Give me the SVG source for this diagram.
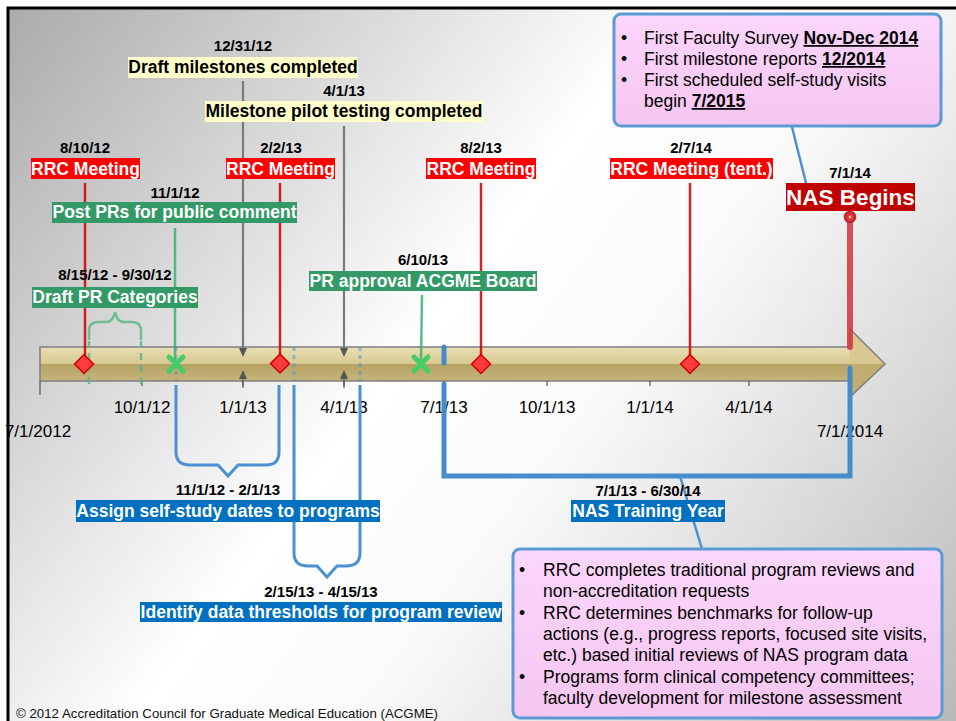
<svg xmlns="http://www.w3.org/2000/svg" width="956" height="721" viewBox="0 0 956 721">
  <defs>
    <linearGradient id="bg" gradientUnits="userSpaceOnUse" x1="0" y1="0" x2="956" y2="721">
      <stop offset="0" stop-color="#a9a9a9"/>
      <stop offset="0.45" stop-color="#ffffff"/>
      <stop offset="0.6" stop-color="#fafafa"/>
      <stop offset="1" stop-color="#b9b9b9"/>
    </linearGradient>
    <linearGradient id="barTop" x1="0" y1="0" x2="0" y2="1">
      <stop offset="0" stop-color="#e9dfb4"/>
      <stop offset="1" stop-color="#d8c992"/>
    </linearGradient>
    <linearGradient id="barBot" x1="0" y1="0" x2="0" y2="1">
      <stop offset="0" stop-color="#b5a263"/>
      <stop offset="1" stop-color="#c6b47c"/>
    </linearGradient>
    <linearGradient id="pink" x1="0" y1="0" x2="0" y2="1">
      <stop offset="0" stop-color="#fcd6fc"/>
      <stop offset="1" stop-color="#f5c6f0"/>
    </linearGradient>
  </defs>
  <style>
    text { font-family: "Liberation Sans", Arial, sans-serif; }
    .date { font-size: 15px; font-weight: bold; fill: #000; text-anchor: middle; }
    .lbl { font-size: 17.5px; font-weight: bold; fill: #fff; text-anchor: middle; }
    .lblDark { font-size: 17.5px; font-weight: bold; fill: #000; text-anchor: middle; }
    .axis { font-size: 17px; fill: #000; text-anchor: middle; }
    .body { font-size: 17.5px; fill: #000; }
    .em { font-weight: bold; text-decoration: underline; }
    .red { fill: #ff0000; }
    .green { fill: #339966; }
    .blue { fill: #0070c0; }
    .yellow { fill: #ffffcc; }
    .call { fill: url(#pink); stroke: #5b9bd5; stroke-width: 3; }
    .rline { stroke: #cc0000; stroke-width: 2.5; opacity: 0.85; }
    .gline { stroke: #3cb371; stroke-width: 2.5; opacity: 0.85; }
    .kline { stroke: #7a7a7a; stroke-width: 2.2; }
    .bline { stroke: #4a90d2; stroke-width: 3; fill: none; }
    .diamond { fill: #ff3b3b; stroke: #d00000; stroke-width: 1.5; }
    .xmark { stroke: #44cc66; stroke-width: 5; stroke-linecap: round; }
    .tick { stroke: #555; stroke-width: 1.2; }
    .tri { fill: #555; }
  </style>

  <!-- background and frame -->
  <rect x="0" y="0" width="956" height="721" fill="#ffffff"/>
  <rect x="8" y="8" width="948" height="713" fill="url(#bg)"/>
  <path d="M8,721 V8 H956" fill="none" stroke="#000" stroke-width="3"/>

  <!-- timeline bar -->
  <g id="timeline">
    <rect x="40" y="347" width="810" height="17" fill="url(#barTop)"/>
    <rect x="40" y="364" width="810" height="17" fill="url(#barBot)"/>
    <path d="M850,329 L885,364 L850,397 Z" fill="#d8c992"/>
    <path d="M850,364 L885,364 L850,397 Z" fill="#bfad72"/>
    <path d="M40,347 H850 V329 L885,364 L850,397 V381 H40 Z" fill="none" stroke="#7f7f7f" stroke-width="1.5"/>
    <path class="tick" d="M40,381 V395 M142,381 V386 M243,381 V386 M344,381 V386 M444,381 V386 M547,381 V386 M650,381 V386 M749,381 V386"/>
    <text class="axis" x="142" y="413">10/1/12</text>
    <text class="axis" x="243" y="413">1/1/13</text>
    <text class="axis" x="344" y="413">4/1/13</text>
    <text class="axis" x="444" y="413">7/1/13</text>
    <text class="axis" x="547" y="413">10/1/13</text>
    <text class="axis" x="650" y="413">1/1/14</text>
    <text class="axis" x="749" y="413">4/1/14</text>
    <text class="axis" x="38" y="437">7/1/2012</text>
    <text class="axis" x="850" y="437">7/1/2014</text>
  </g>

  <!-- connectors -->
  <g id="connectors">
    <!-- RRC meetings -->
    <line class="rline" x1="85" y1="183" x2="85" y2="364"/>
    <line class="rline" x1="280" y1="183" x2="280" y2="364"/>
    <line class="rline" x1="481" y1="183" x2="481" y2="364"/>
    <line class="rline" x1="690" y1="183" x2="690" y2="364"/>
    <!-- PR milestones -->
    <line class="gline" x1="175" y1="228" x2="175" y2="364"/>
    <line class="gline" x1="422" y1="295" x2="421" y2="360" stroke="#66bb66"/>
    <!-- milestone completion markers -->
    <line class="kline" x1="243" y1="81" x2="243" y2="349"/>
    <line class="kline" x1="344" y1="126" x2="344" y2="349"/>
    <path class="tri" d="M239,348 L247,348 L243,357 Z M340,348 L348,348 L344,357 Z"/>
    <path class="tri" d="M239,379 L247,379 L243,370 Z M340,379 L348,379 L344,370 Z"/>
    <path class="tick" d="M243,379 V388 M344,379 V388"/>
    <!-- Draft PR Categories brace -->
    <g stroke="#5cb88a" stroke-width="2.5" fill="none" opacity="0.85">
      <path d="M89,340 V331 Q89,322 98,322 H106 Q113,322 115,312 Q117,322 124,322 H132 Q141,322 141,331 V340"/>
      <path d="M89,341 V386 M141,341 V386" stroke-dasharray="7,5"/>
    </g>
    <!-- self-study dates brace -->
    <path class="bline" d="M176,385 V452 Q176,465 190,465 H218 L228,476 L238,465 H266 Q279,465 279,452 V385"/>
    <path class="bline" d="M176,347 V381" stroke-dasharray="4,4" opacity="0.5"/>
    <!-- data thresholds brace -->
    <path class="bline" d="M294,385 V553 Q294,566 308,566 H317 L327,577 L337,566 H346 Q360,566 360,553 V385"/>
    <path class="bline" d="M294,347 V381 M360,347 V381" stroke-dasharray="4,4" opacity="0.5"/>
    <!-- NAS training year bracket -->
    <g stroke="#3d88cc" stroke-width="5" stroke-linecap="round" fill="none" opacity="0.95">
      <path d="M444,347 V363"/>
      <path d="M444,384 V476 H850 V368"/>
    </g>
    <line x1="680" y1="476" x2="702" y2="549" stroke="#4a90d2" stroke-width="2.5"/>
    <!-- NAS begins -->
    <line x1="850" y1="217" x2="850" y2="347" stroke="#d6333c" stroke-width="6" stroke-linecap="round" opacity="0.85"/>
    <circle cx="850" cy="217" r="5.5" fill="#d6333c" stroke="#c0202a" stroke-width="1.5"/>
    <circle cx="850" cy="217" r="1.5" fill="#e8c080"/>
    <!-- callout pointer -->
    <line x1="792" y1="127" x2="806" y2="183" stroke="#4a90d2" stroke-width="2.5"/>
    <!-- markers on the bar -->
    <path class="diamond" d="M84,354.5 L93.5,364 L84,373.5 L74.5,364 Z"/>
    <path class="diamond" d="M280,354 L289.5,363.5 L280,373 L270.5,363.5 Z"/>
    <path class="diamond" d="M481,354.5 L490.5,364 L481,373.5 L471.5,364 Z"/>
    <path class="diamond" d="M690,354.5 L699.5,364 L690,373.5 L680.5,364 Z"/>
    <path class="xmark" d="M169,357 L183,371 M183,357 L169,371"/>
    <path class="xmark" d="M414,357 L428,371 M428,357 L414,371"/>
  </g>

  <!-- events -->
  <g id="rrc-2012-08">
    <text class="date" x="85" y="153">8/10/12</text>
    <rect class="red" x="31" y="158" width="109" height="21"/>
    <text class="lbl" x="85.5" y="175">RRC Meeting</text>
  </g>
  <g id="rrc-2013-02">
    <text class="date" x="281" y="153">2/2/13</text>
    <rect class="red" x="226" y="158" width="109" height="21"/>
    <text class="lbl" x="280.5" y="175">RRC Meeting</text>
  </g>
  <g id="rrc-2013-08">
    <text class="date" x="481" y="153">8/2/13</text>
    <rect class="red" x="426" y="158" width="110" height="21"/>
    <text class="lbl" x="481" y="175">RRC Meeting</text>
  </g>
  <g id="rrc-2014-02">
    <text class="date" x="691" y="153">2/7/14</text>
    <rect class="red" x="610" y="158" width="163" height="21"/>
    <text class="lbl" x="691.5" y="175">RRC Meeting (tent.)</text>
  </g>
  <g id="nas-begins">
    <text class="date" x="850" y="178">7/1/14</text>
    <rect x="786" y="183" width="129" height="28" fill="#c00000"/>
    <text class="lbl" x="850.5" y="205" style="font-size:22.5px">NAS Begins</text>
  </g>
  <g id="draft-milestones">
    <text class="date" x="243" y="51">12/31/12</text>
    <rect class="yellow" x="128" y="57" width="230" height="21"/>
    <text class="lblDark" x="243" y="73">Draft milestones completed</text>
  </g>
  <g id="milestone-pilot">
    <text class="date" x="344" y="96">4/1/13</text>
    <rect class="yellow" x="205" y="101" width="278" height="21"/>
    <text class="lblDark" x="344" y="117">Milestone pilot testing completed</text>
  </g>
  <g id="post-prs">
    <text class="date" x="175" y="198">11/1/12</text>
    <rect class="green" x="52" y="202" width="245" height="21"/>
    <text class="lbl" x="174.5" y="218">Post PRs for public comment</text>
  </g>
  <g id="draft-pr-categories">
    <text class="date" x="115" y="280">8/15/12 - 9/30/12</text>
    <rect class="green" x="32" y="287" width="166" height="21"/>
    <text class="lbl" x="115" y="303">Draft PR Categories</text>
  </g>
  <g id="pr-approval">
    <text class="date" x="423" y="265">6/10/13</text>
    <rect class="green" x="309" y="271" width="228" height="20"/>
    <text class="lbl" x="423" y="287">PR approval ACGME Board</text>
  </g>
  <g id="self-study-dates">
    <text class="date" x="228" y="495">11/1/12 - 2/1/13</text>
    <rect class="blue" x="76" y="500" width="304" height="22"/>
    <text class="lbl" x="228" y="517">Assign self-study dates to programs</text>
  </g>
  <g id="data-thresholds">
    <text class="date" x="321" y="597">2/15/13 - 4/15/13</text>
    <rect class="blue" x="140" y="602" width="362" height="20"/>
    <text class="lbl" x="321" y="618">Identify data thresholds for program review</text>
  </g>
  <g id="nas-training-year">
    <text class="date" x="648" y="496">7/1/13 - 6/30/14</text>
    <rect class="blue" x="571" y="500" width="154" height="22"/>
    <text class="lbl" x="648" y="517">NAS Training Year</text>
  </g>

  <!-- callouts -->
  <g id="callout-first">
    <rect class="call" x="614" y="14" width="327" height="112" rx="7"/>
    <text class="body" x="621" y="44">•</text>
    <text class="body" x="621" y="65">•</text>
    <text class="body" x="621" y="86">•</text>
    <text class="body" x="644" y="44">First Faculty Survey <tspan class="em">Nov-Dec 2014</tspan></text>
    <text class="body" x="644" y="65">First milestone reports <tspan class="em">12/2014</tspan></text>
    <text class="body" x="644" y="86">First scheduled self-study visits</text>
    <text class="body" x="644" y="107">begin <tspan class="em">7/2015</tspan></text>
  </g>
  <g id="callout-training">
    <rect class="call" x="513" y="549" width="429" height="169" rx="7"/>
    <text class="body" x="519" y="576">•</text>
    <text class="body" x="519" y="619">•</text>
    <text class="body" x="519" y="683">•</text>
    <text class="body" x="543" y="576">RRC completes traditional program reviews and</text>
    <text class="body" x="543" y="597">non-accreditation requests</text>
    <text class="body" x="543" y="619">RRC determines benchmarks for follow-up</text>
    <text class="body" x="543" y="640">actions (e.g., progress reports, focused site visits,</text>
    <text class="body" x="543" y="661">etc.) based initial reviews of NAS program data</text>
    <text class="body" x="543" y="683">Programs form clinical competency committees;</text>
    <text class="body" x="543" y="704">faculty development for milestone assessment</text>
  </g>

  <text x="16" y="718" style="font-size:13.5px" fill="#111" textLength="422" lengthAdjust="spacingAndGlyphs">© 2012 Accreditation Council for Graduate Medical Education (ACGME)</text>
</svg>
